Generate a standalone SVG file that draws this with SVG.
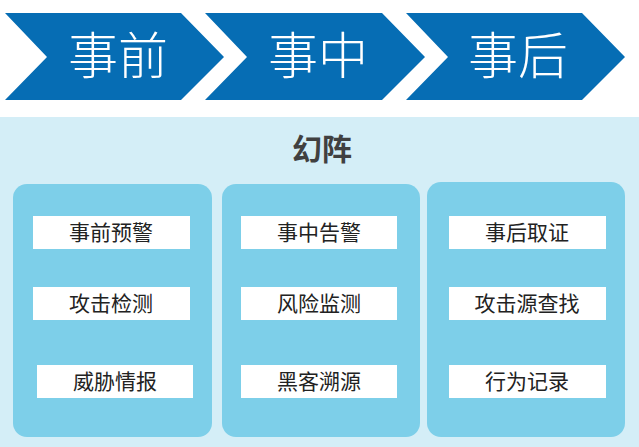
<svg xmlns="http://www.w3.org/2000/svg" width="639" height="447" viewBox="0 0 639 447">
<style>
.chev{fill:#066db4}
.ct{fill:#fff;font-family:"Noto Sans CJK SC",sans-serif;font-size:50px;font-weight:300;text-anchor:middle}
.col{fill:#7dcfe9}
.box{fill:#fff}
.bt{fill:#222;font-family:"Noto Sans CJK SC",sans-serif;font-size:21px;text-anchor:middle}
</style>
<rect x="0" y="117" width="639" height="330" fill="#d4eef7"/>
<g id="step1"><polygon class="chev" points="5,13 181,13 224,57 181,100 5,100 47,57"/><text class="ct" x="118" y="74">事前</text></g>
<g id="step2"><polygon class="chev" points="205,13 382,13 425,57 382,100 205,100 247,57"/><text class="ct" x="318" y="74">事中</text></g>
<g id="step3"><polygon class="chev" points="406,13 582,13 625,57 582,100 406,100 448,57"/><text class="ct" x="518" y="74">事后</text></g>
<g id="title"><text x="322" y="160" font-family="Noto Sans CJK SC,sans-serif" font-size="30" font-weight="bold" fill="#404040" text-anchor="middle">幻阵</text></g>
<g id="col1"><rect class="col" x="13" y="184" width="199" height="253" rx="14"/>
<rect class="box" x="33" y="216" width="157" height="33"/><text class="bt" x="111" y="240">事前预警</text>
<rect class="box" x="33" y="287" width="157" height="33"/><text class="bt" x="111" y="311">攻击检测</text>
<rect class="box" x="37" y="365" width="156" height="33"/><text class="bt" x="115" y="389">威胁情报</text></g>
<g id="col2"><rect class="col" x="222" y="184" width="198" height="253" rx="14"/>
<rect class="box" x="241" y="216" width="156" height="33"/><text class="bt" x="319" y="240">事中告警</text>
<rect class="box" x="241" y="287" width="156" height="33"/><text class="bt" x="319" y="311">风险监测</text>
<rect class="box" x="241" y="365" width="156" height="33"/><text class="bt" x="319" y="389">黑客溯源</text></g>
<g id="col3"><rect class="col" x="427" y="182" width="198" height="255" rx="14"/>
<rect class="box" x="449" y="216" width="157" height="33"/><text class="bt" x="527" y="240">事后取证</text>
<rect class="box" x="449" y="287" width="157" height="33"/><text class="bt" x="527" y="311">攻击源查找</text>
<rect class="box" x="449" y="365" width="157" height="33"/><text class="bt" x="527" y="389">行为记录</text></g>
<g id="connectors"></g>
</svg>
